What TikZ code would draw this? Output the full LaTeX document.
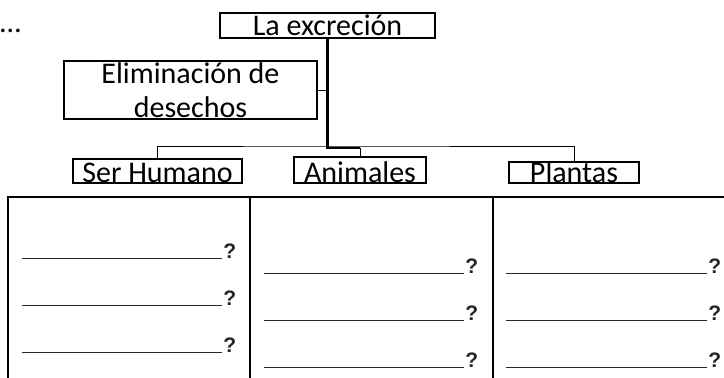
\documentclass[tikz,border=0pt]{standalone}
\usepackage{fontspec}
\setmainfont{Carlito}
\newfontfamily\qfont{Liberation Sans}
\usetikzlibrary{positioning}

\begin{document}
\begin{tikzpicture}[x=1pt,y=-1pt,
    caja/.style={draw, line width=1.3pt, inner sep=0pt, font=\fontsize{30}{34}\selectfont},
    tronco/.style={line width=2.2pt},
    rama/.style={line width=0.9pt},
    tabla/.style={line width=1.6pt},
    raya/.style={line width=0.9pt, black!85},
    preg/.style={anchor=base west, inner sep=1pt, font=\qfont\bfseries\fontsize{21}{23}\selectfont}]
        \useasboundingbox (0,0) rectangle (724,378);

        \node[anchor=base west, inner sep=0pt, font=\fontsize{30}{34}\selectfont] (puntos) at (0,32) {…};
        \node[caja, minimum width=215pt, minimum height=25pt, text height=19pt, text depth=0pt] (excr) at (327.5,25.5) {La excreción};
        \node[caja, minimum width=253pt, minimum height=58pt, align=center] (elim) at (190.5,90) {Eliminación de\\desechos};
        \node[caja, minimum width=169pt, minimum height=24pt, text height=22pt, text depth=0pt] (ser) at (157.5,171) {Ser Humano};
        \node[caja, minimum width=132pt, minimum height=26pt, text height=24pt, text depth=0pt] (ani) at (360,170) {Animales};
        \node[caja, minimum width=130pt, minimum height=21pt, text height=19pt, text depth=0pt] (pla) at (574,172.5) {Plantas};
        \coordinate (nudo) at (327.5,146);
        \coordinate (codo) at (360,148);

        % Lineas desde la excrecion
        \draw[tronco] (excr.south) -- (nudo);
        \draw[tronco] (nudo) |- (codo);
        \draw[rama] (elim.east) -- (elim.east -| nudo);
        \draw[rama] (ser.north) |- (nudo) -| (pla.north);
        \draw[rama] (codo) -- (ani.north);

        % Tabla
        \draw[tabla] (8,378) -- (8,197) -- (724,197);
        \draw[tabla] (250,197) -- (250,378);
        \draw[tabla] (493,197) -- (493,378);

        % Renglones
        \foreach \y [count=\i] in {258,305,352} {
            \coordinate (a\i) at (22,\y);
            \draw[raya] (a\i) -- ++(200,0) node[preg] (qa\i) {?};
        }
        \foreach \y [count=\i] in {273,320,367} {
            \coordinate (b\i) at (264,\y);
            \coordinate (c\i) at (506,\y);
            \draw[raya] (b\i) -- ++(200,0) node[preg] (qb\i) {?};
            \draw[raya] (c\i) -- ++(201,0) node[preg] (qc\i) {?};
        }
    \end{tikzpicture}
\end{document}
